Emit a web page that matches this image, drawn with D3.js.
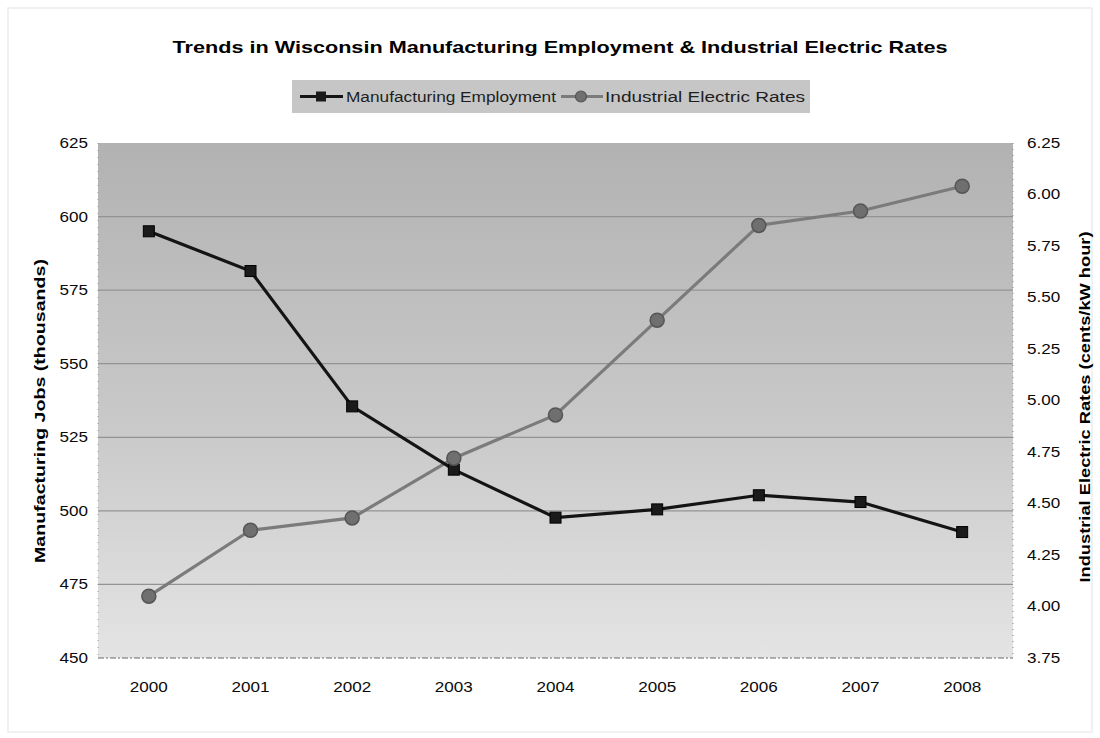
<!DOCTYPE html>
<html><head><meta charset="utf-8">
<script src="https://cdn.jsdelivr.net/npm/d3@7"></script>
<style>
html,body{margin:0;padding:0;background:#fff;}
text{font-family:"Liberation Sans",Arial,sans-serif;}
</style></head>
<body>
<svg id="chart" width="1100" height="738"></svg>
<script>
const years = ["2000","2001","2002","2003","2004","2005","2006","2007","2008"];
const employment = [595, 581.5, 535.5, 514, 497.7, 500.5, 505.3, 503, 492.8];
const electricRates = [4.05, 4.37, 4.43, 4.72, 4.93, 5.39, 5.85, 5.92, 6.04];
const leftTicks = [450, 475, 500, 525, 550, 575, 600, 625];
const rightTicks = [3.75, 4.00, 4.25, 4.50, 4.75, 5.00, 5.25, 5.50, 5.75, 6.00, 6.25];
const titleText = "Trends in Wisconsin Manufacturing Employment & Industrial Electric Rates";
const seriesNames = ["Manufacturing Employment", "Industrial Electric Rates"];
const leftLabel = "Manufacturing Jobs (thousands)";
const rightLabel = "Industrial Electric Rates (cents/kW hour)";

const svg = d3.select("#chart");
const W = 1100, H = 738;
const m = {left: 98, right: 1013, top: 143, bottom: 658};
const STRETCH = 1.22;

function stretch(sel, f) {
  sel.each(function() {
    const w = this.getComputedTextLength();
    d3.select(this).attr("textLength", w * f).attr("lengthAdjust", "spacingAndGlyphs");
  });
}

// outer frame
svg.append("rect").attr("x", 8).attr("y", 8).attr("width", W - 16).attr("height", H - 14)
  .attr("fill", "#fff").attr("stroke", "#ececec").attr("stroke-width", 1.5);

const x = d3.scaleBand().domain(years).range([m.left, m.right]);
const yL = d3.scaleLinear().domain([450, 625]).range([m.bottom, m.top]);
const yR = d3.scaleLinear().domain([3.75, 6.25]).range([m.bottom, m.top]);

// gradient background
const defs = svg.append("defs");
const grad = defs.append("linearGradient").attr("id", "bg").attr("x1", 0).attr("y1", 0).attr("x2", 0).attr("y2", 1);
grad.append("stop").attr("offset", "0%").attr("stop-color", "#b2b2b2");
grad.append("stop").attr("offset", "55%").attr("stop-color", "#c9c9c9");
grad.append("stop").attr("offset", "100%").attr("stop-color", "#e4e4e4");

svg.append("rect").attr("x", m.left).attr("y", m.top)
  .attr("width", m.right - m.left).attr("height", m.bottom - m.top)
  .attr("fill", "url(#bg)");

// gridlines
svg.append("g").selectAll("line").data(leftTicks.slice(1, -1)).join("line")
  .attr("x1", m.left).attr("x2", m.right)
  .attr("y1", d => yL(d)).attr("y2", d => yL(d))
  .attr("stroke", "#939393").attr("stroke-width", 1.2);

// plot edges
svg.append("line").attr("x1", m.left).attr("x2", m.right).attr("y1", m.bottom).attr("y2", m.bottom)
  .attr("stroke", "#6a6a6a").attr("stroke-width", 1.2).attr("stroke-dasharray", "6,2,2,2");
svg.append("line").attr("x1", m.left).attr("x2", m.left).attr("y1", m.top).attr("y2", m.bottom)
  .attr("stroke", "#9a9a9a").attr("stroke-width", 1).attr("stroke-dasharray", "1,6");
svg.append("line").attr("x1", m.right).attr("x2", m.right).attr("y1", m.top).attr("y2", m.bottom)
  .attr("stroke", "#8a8a8a").attr("stroke-width", 1).attr("stroke-dasharray", "1,5");

// axes (labels only)
const axL = d3.axisLeft(yL).tickValues(leftTicks).tickSize(0).tickPadding(10).tickFormat(d3.format("d"));
const gL = svg.append("g").attr("transform", `translate(${m.left},0)`).call(axL);
const axR = d3.axisRight(yR).tickValues(rightTicks).tickSize(0).tickPadding(14).tickFormat(d3.format(".2f"));
const gR = svg.append("g").attr("transform", `translate(${m.right},0)`).call(axR);
const axB = d3.axisBottom(x).tickSize(0).tickPadding(24);
const gB = svg.append("g").attr("transform", `translate(0,${m.bottom})`).call(axB);
[gL, gR, gB].forEach(g => {
  g.select(".domain").remove();
  g.selectAll("text").attr("font-size", 14).attr("fill", "#0a0a0a")
    .attr("font-family", "'Liberation Sans', Arial, sans-serif");
  stretch(g.selectAll("text"), STRETCH);
});

// lines
const lineEmp = d3.line().x((d, i) => x(years[i]) + x.bandwidth() / 2).y(d => yL(d));
const lineRate = d3.line().x((d, i) => x(years[i]) + x.bandwidth() / 2).y(d => yR(d));

svg.append("path").datum(electricRates).attr("d", lineRate)
  .attr("fill", "none").attr("stroke", "#7b7b7b").attr("stroke-width", 3.2);
svg.append("path").datum(employment).attr("d", lineEmp)
  .attr("fill", "none").attr("stroke", "#141414").attr("stroke-width", 3.2);

svg.append("g").selectAll("rect").data(employment).join("rect")
  .attr("x", (d, i) => x(years[i]) + x.bandwidth() / 2 - 5.5)
  .attr("y", d => yL(d) - 5.5).attr("width", 11).attr("height", 11)
  .attr("fill", "#1a1a1a").attr("stroke", "#000").attr("stroke-width", 1);

svg.append("g").selectAll("circle").data(electricRates).join("circle")
  .attr("cx", (d, i) => x(years[i]) + x.bandwidth() / 2)
  .attr("cy", d => yR(d)).attr("r", 7)
  .attr("fill", "#6f6f6f").attr("stroke", "#555").attr("stroke-width", 1.5);

// title
svg.append("text").attr("x", 560).attr("y", 53).attr("text-anchor", "middle")
  .attr("font-size", 16.5).attr("font-weight", "bold").attr("fill", "#000").text(titleText)
  .attr("textLength", 775).attr("lengthAdjust", "spacingAndGlyphs");

// legend
svg.append("rect").attr("x", 292).attr("y", 80).attr("width", 518).attr("height", 33)
  .attr("fill", "#c6c6c6");
const ly = 96.5;
svg.append("line").attr("x1", 300).attr("x2", 343).attr("y1", ly).attr("y2", ly)
  .attr("stroke", "#141414").attr("stroke-width", 3.2);
svg.append("rect").attr("x", 316).attr("y", ly - 5).attr("width", 10).attr("height", 10).attr("fill", "#1a1a1a");
svg.append("text").attr("x", 346).attr("y", ly + 5).attr("font-size", 14).attr("fill", "#1e1e1e")
  .text(seriesNames[0]).attr("textLength", 210).attr("lengthAdjust", "spacingAndGlyphs");
svg.append("line").attr("x1", 561).attr("x2", 603).attr("y1", ly).attr("y2", ly)
  .attr("stroke", "#7b7b7b").attr("stroke-width", 3.2);
svg.append("circle").attr("cx", 581).attr("cy", ly).attr("r", 5.5)
  .attr("fill", "#6f6f6f").attr("stroke", "#555").attr("stroke-width", 1.2);
svg.append("text").attr("x", 605).attr("y", ly + 5).attr("font-size", 14).attr("fill", "#1e1e1e")
  .text(seriesNames[1]).attr("textLength", 200).attr("lengthAdjust", "spacingAndGlyphs");

// axis titles
svg.append("text").attr("transform", `translate(45,411) rotate(-90)`)
  .attr("text-anchor", "middle").attr("font-size", 15).attr("font-weight", "bold").attr("fill", "#000")
  .text(leftLabel).attr("textLength", 304).attr("lengthAdjust", "spacingAndGlyphs");
svg.append("text").attr("transform", `translate(1090,407) rotate(-90)`)
  .attr("text-anchor", "middle").attr("font-size", 15).attr("font-weight", "bold").attr("fill", "#000")
  .text(rightLabel).attr("textLength", 351).attr("lengthAdjust", "spacingAndGlyphs");
</script>
</body></html>
